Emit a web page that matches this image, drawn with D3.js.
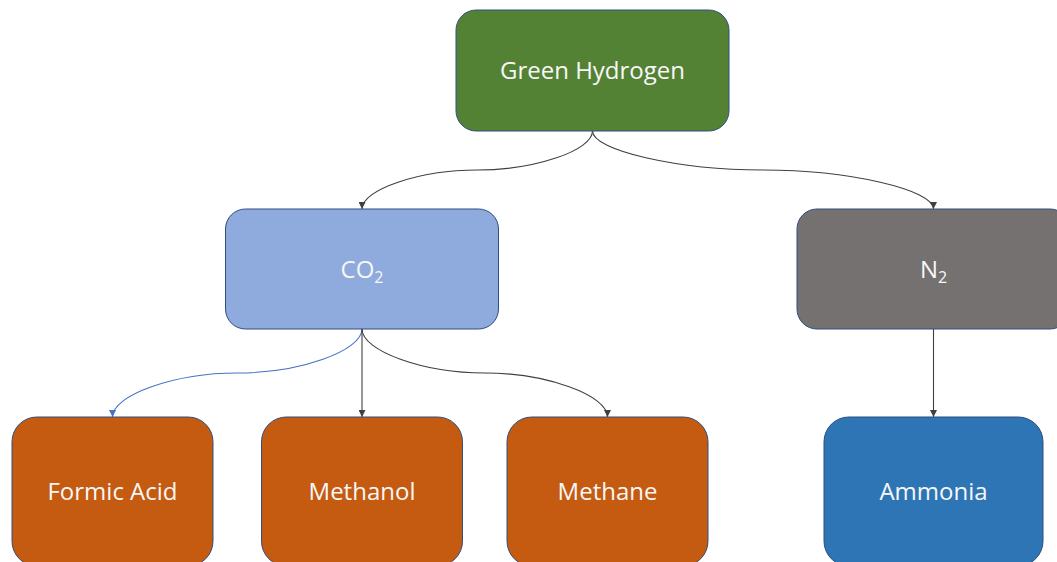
<!DOCTYPE html>
<html>
<head>
<meta charset="utf-8">
<script src="https://cdn.jsdelivr.net/npm/d3@7"></script>
<style>
  html, body { margin: 0; padding: 0; background: #fff; }
  svg { display: block; }
</style>
</head>
<body>
<svg width="1057" height="562"></svg>
<script>
// tree data
const nodeNames = ["Green Hydrogen", "CO2", "N2", "Formic Acid", "Methanol", "Methane", "Ammonia"];
const nodeParents = [null, "Green Hydrogen", "Green Hydrogen", "CO2", "CO2", "CO2", "N2"];
const blueLinks = ["Formic Acid"];

// layout (box geometry + fill), kept apart from the data
const layout = {
	"Green Hydrogen": { cx: 592.5, top: 10, w: 273, h: 121, fill: "#548235" },
	"CO2": { cx: 362, top: 209, w: 273, h: 120, fill: "#8FAADC" },
	"N2": { cx: 933.5, top: 209, w: 273, h: 120, fill: "#767171" },
	"Formic Acid": { cx: 112.5, top: 417, w: 201, h: 149, fill: "#C55A11" },
	"Methanol": { cx: 362, top: 417, w: 201, h: 149, fill: "#C55A11" },
	"Methane": { cx: 607.5, top: 417, w: 201, h: 149, fill: "#C55A11" },
	"Ammonia": { cx: 933.5, top: 417, w: 219, h: 149, fill: "#2E75B6" }
}

const svg = d3.select("svg");

const root = d3.stratify()
	.id((d, i) => nodeNames[i])
	.parentId((d, i) => nodeParents[i])(nodeNames);

// arrow markers
const defs = svg.append("defs");
[["arrDark", "#404040"], ["arrBlue", "#4472C4"]].forEach(([id, c]) => {
	defs.append("marker")
		.attr("id", id)
		.attr("viewBox", "0 0 10 10")
		.attr("refX", 10)
		.attr("refY", 5)
		.attr("markerWidth", 7)
		.attr("markerHeight", 7)
		.attr("markerUnits", "userSpaceOnUse")
		.attr("orient", "auto")
		.append("path")
		.attr("d", "M0,0 L10,5 L0,10 Z")
		.attr("fill", c);
});

// office style curved connector (two cubic pieces, flat middle)
function connector(l) {
	const s = layout[l.source.id], t = layout[l.target.id];
	const sx = s.cx, sy = s.top + s.h, tx = t.cx, ty = t.top;
	const dx = tx - sx, dy = ty - sy, my = sy + dy / 2;
	if (Math.abs(dx) < 1) return `M${sx},${sy} L${tx},${ty}`;
	const p = d3.path();
	p.moveTo(sx, sy);
	p.bezierCurveTo(sx, sy + dy / 4, sx + dx / 4, my, sx + dx / 2, my);
	p.bezierCurveTo(sx + 3 * dx / 4, my, tx, sy + 3 * dy / 4, tx, ty);
	return p.toString();
}

svg.append("g")
	.selectAll("path")
	.data(root.links())
	.join("path")
	.attr("d", connector)
	.attr("fill", "none")
	.attr("stroke", d => blueLinks.includes(d.target.id) ? "#4472C4" : "#404040")
	.attr("stroke-width", 1.1)
	.attr("marker-end", d => blueLinks.includes(d.target.id) ? "url(#arrBlue)" : "url(#arrDark)");

const boxes = svg.append("g")
	.selectAll("g")
	.data(root.descendants())
	.join("g")
	.attr("transform", d => `translate(${layout[d.id].cx - layout[d.id].w / 2},${layout[d.id].top})`);

boxes.append("rect")
	.attr("width", d => layout[d.id].w)
	.attr("height", d => layout[d.id].h)
	.attr("rx", d => Math.min(layout[d.id].w, layout[d.id].h) / 6)
	.attr("fill", d => layout[d.id].fill)
	.attr("stroke", "#2F4F7F")
	.attr("stroke-width", 1);

const label = boxes.append("text")
	.attr("x", d => layout[d.id].w / 2)
	.attr("y", d => layout[d.id].h / 2 + 8.5)
	.attr("text-anchor", "middle")
	.attr("fill", "#F7F7F7")
	.style("font-family", "'Open Sans', sans-serif")
	.style("font-size", "24px");

// split trailing digit into a subscript
label.each(function (d) {
	const m = d.id.match(/^(.*?)(\d+)$/);
	const t = d3.select(this);
	if (m) {
		t.append("tspan").text(m[1]);
		t.append("tspan").text(m[2]).attr("dy", 5).style("font-size", "16px");
	} else {
		t.text(d.id);
	}
});
</script>
</body>
</html>
